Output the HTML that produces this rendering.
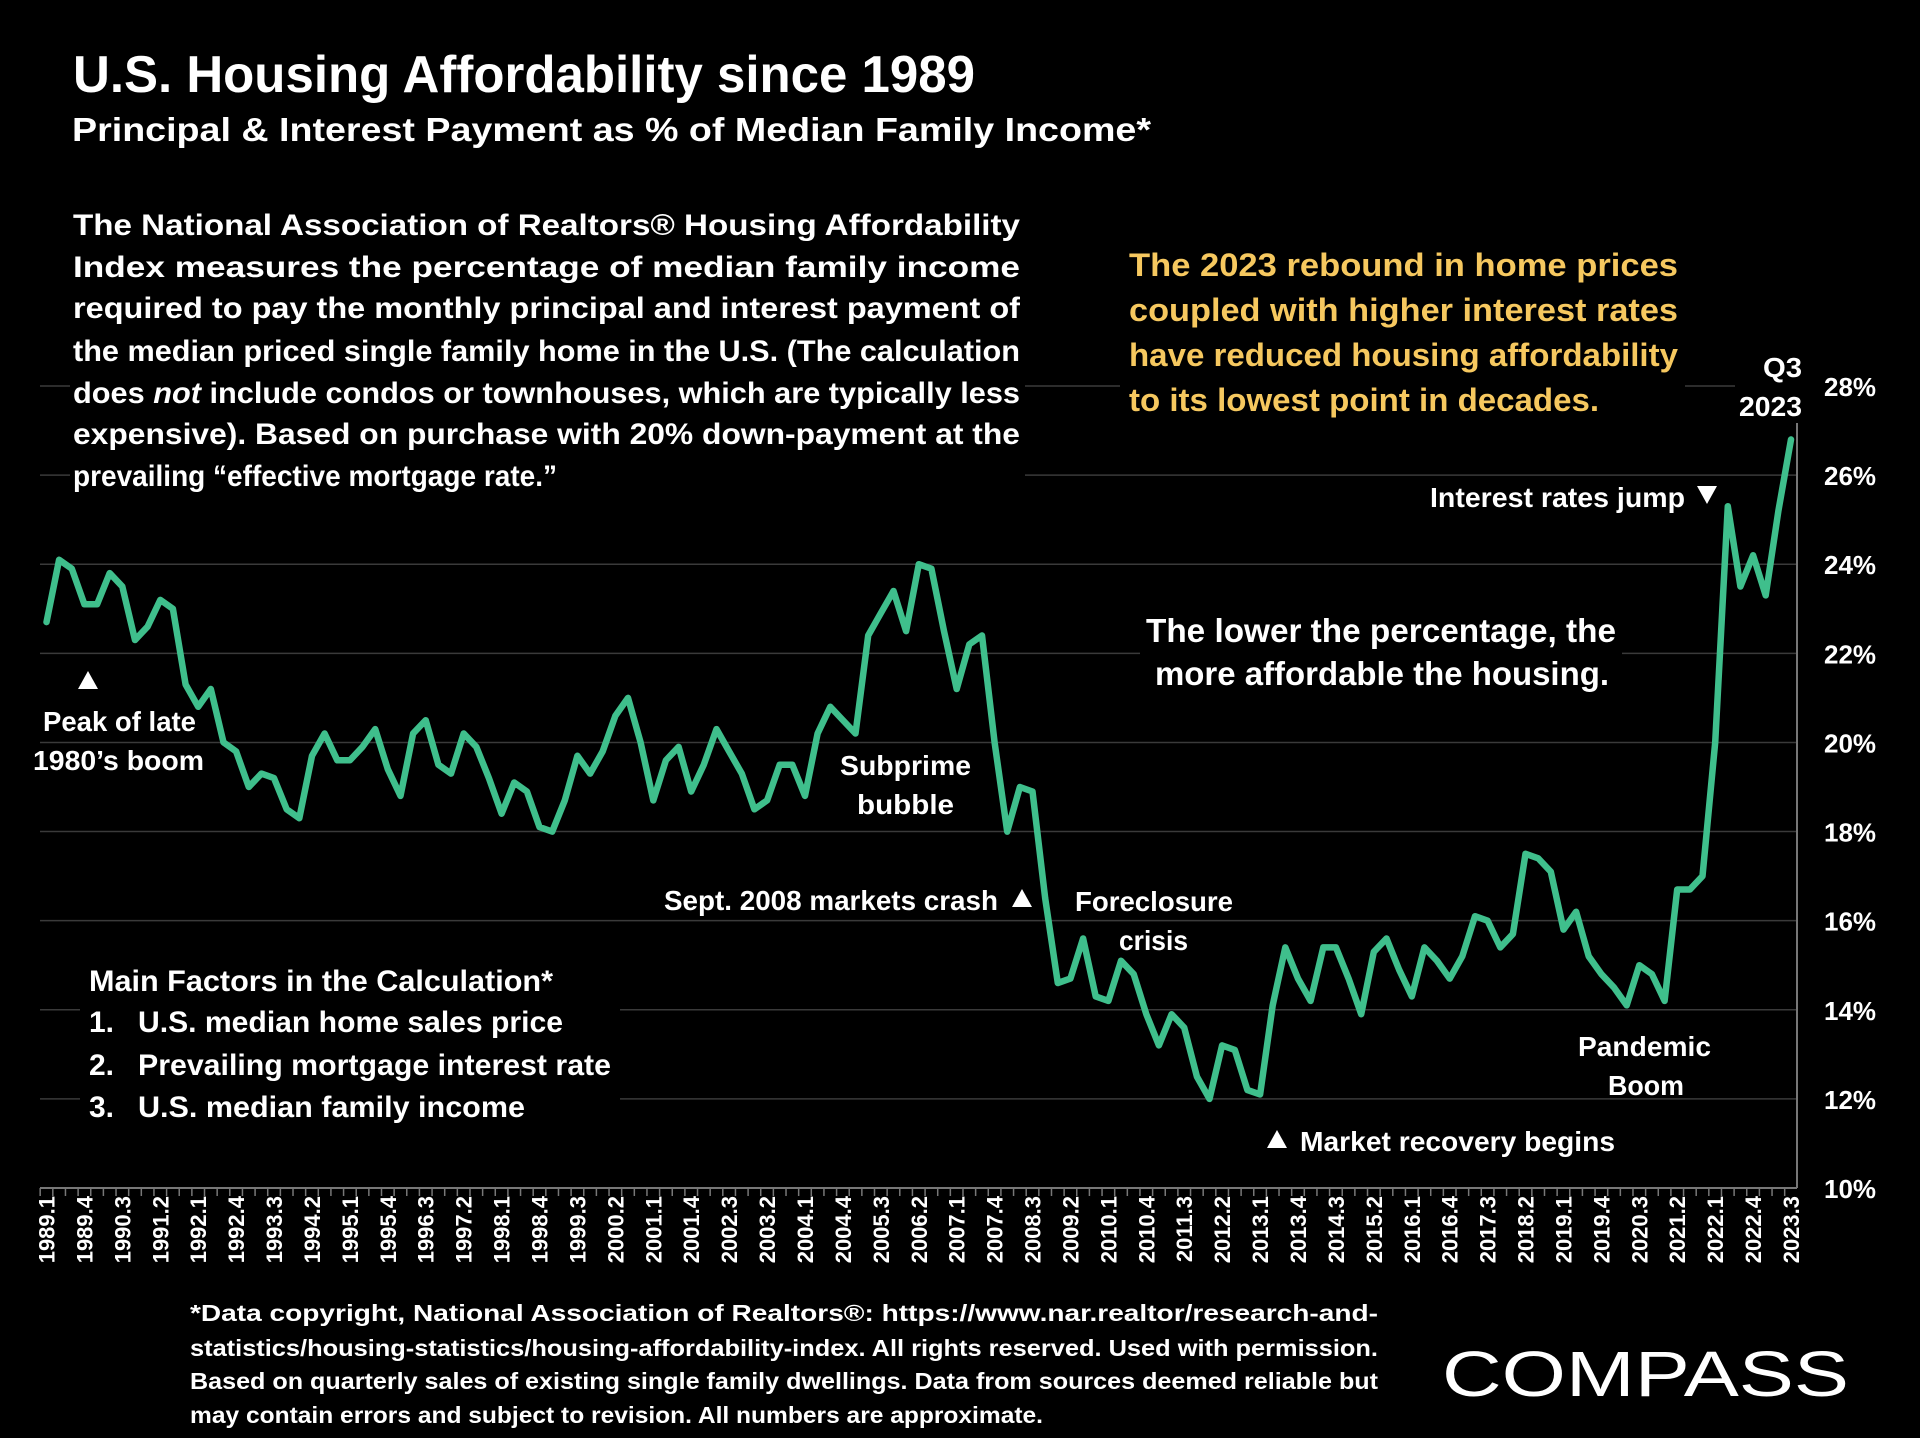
<!DOCTYPE html>
<html><head><meta charset="utf-8"><style>
html,body{margin:0;padding:0;background:#000;}
svg{display:block;font-family:"Liberation Sans",sans-serif;font-weight:bold;}
</style></head><body>
<svg id="chart" width="1920" height="1438" viewBox="0 0 1920 1438">
<rect width="1920" height="1438" fill="#000"/>
<g id="grid"></g>
<g id="axes"></g>
<g id="xlabels"></g>
<g id="ylabels"></g>
<g id="textbg">
<rect x="70" y="200" width="955" height="300" fill="#000"/>
<rect x="1120" y="245" width="565" height="175" fill="#000"/>
<rect x="1735" y="345" width="72" height="78" fill="#000"/>
<rect x="1140" y="605" width="482" height="90" fill="#000"/>
<rect x="80" y="955" width="540" height="175" fill="#000"/>
</g>
<path id="series" fill="none" stroke="#3fbf8c" stroke-width="6.5" stroke-linejoin="round" stroke-linecap="round"/>

<text x="73" y="92" font-size="52" fill="#fff" textLength="902" lengthAdjust="spacingAndGlyphs">U.S. Housing Affordability since 1989</text>
<text x="72" y="141" font-size="33" fill="#fff" textLength="1079" lengthAdjust="spacingAndGlyphs">Principal &amp; Interest Payment as % of Median Family Income*</text>

<g fill="#fff" font-size="30">
<text x="73" y="235" textLength="947" lengthAdjust="spacingAndGlyphs">The National Association of Realtors® Housing Affordability</text>
<text x="73" y="277" textLength="947" lengthAdjust="spacingAndGlyphs">Index measures the percentage of median family income</text>
<text x="73" y="318" textLength="947" lengthAdjust="spacingAndGlyphs">required to pay the monthly principal and interest payment of</text>
<text x="73" y="361" textLength="947" lengthAdjust="spacingAndGlyphs">the median priced single family home in the U.S. (The calculation</text>
<text x="73" y="403" textLength="947" lengthAdjust="spacingAndGlyphs">does <tspan font-style="italic">not</tspan> include condos or townhouses, which are typically less</text>
<text x="73" y="444" textLength="947" lengthAdjust="spacingAndGlyphs">expensive). Based on purchase with 20% down-payment at the</text>
<text x="73" y="486" textLength="484" lengthAdjust="spacingAndGlyphs">prevailing “effective mortgage rate.”</text>
</g>

<g fill="#f6c85f" font-size="32">
<text x="1129" y="276" textLength="549" lengthAdjust="spacingAndGlyphs">The 2023 rebound in home prices</text>
<text x="1129" y="321" textLength="549" lengthAdjust="spacingAndGlyphs">coupled with higher interest rates</text>
<text x="1129" y="366" textLength="549" lengthAdjust="spacingAndGlyphs">have reduced housing affordability</text>
<text x="1129" y="411" textLength="470" lengthAdjust="spacingAndGlyphs">to its lowest point in decades.</text>
</g>

<g fill="#fff" font-size="28">
<text x="1763" y="377" textLength="39" lengthAdjust="spacingAndGlyphs">Q3</text>
<text x="1739" y="416" textLength="63" lengthAdjust="spacingAndGlyphs">2023</text>
<text x="1430" y="507" textLength="255" lengthAdjust="spacingAndGlyphs">Interest rates jump</text>
<polygon points="1697,486 1717,486 1707,504"/>
<text x="1146" y="642" font-size="33" textLength="470" lengthAdjust="spacingAndGlyphs">The lower the percentage, the</text>
<text x="1155" y="685" font-size="33" textLength="454" lengthAdjust="spacingAndGlyphs">more affordable the housing.</text>
<polygon points="88,671 78,689 98,689"/>
<text x="43" y="731" textLength="153" lengthAdjust="spacingAndGlyphs">Peak of late</text>
<text x="33" y="770" textLength="171" lengthAdjust="spacingAndGlyphs">1980’s boom</text>
<text x="840" y="775" textLength="131" lengthAdjust="spacingAndGlyphs">Subprime</text>
<text x="857" y="814" textLength="97" lengthAdjust="spacingAndGlyphs">bubble</text>
<text x="664" y="910" textLength="334" lengthAdjust="spacingAndGlyphs">Sept. 2008 markets crash</text>
<polygon points="1022,889 1012,907 1032,907"/>
<text x="1075" y="911" textLength="158" lengthAdjust="spacingAndGlyphs">Foreclosure</text>
<text x="1119" y="950" textLength="69" lengthAdjust="spacingAndGlyphs">crisis</text>
<text x="1578" y="1056" textLength="133" lengthAdjust="spacingAndGlyphs">Pandemic</text>
<text x="1608" y="1095" textLength="76" lengthAdjust="spacingAndGlyphs">Boom</text>
<polygon points="1277,1130 1267,1148 1287,1148"/>
<text x="1300" y="1151" textLength="315" lengthAdjust="spacingAndGlyphs">Market recovery begins</text>
</g>

<g fill="#fff" font-size="30">
<text x="89" y="991" textLength="464" lengthAdjust="spacingAndGlyphs">Main Factors in the Calculation*</text>
<text x="89" y="1032">1.</text><text x="138" y="1032" textLength="425" lengthAdjust="spacingAndGlyphs">U.S. median home sales price</text>
<text x="89" y="1075">2.</text><text x="138" y="1075" textLength="473" lengthAdjust="spacingAndGlyphs">Prevailing mortgage interest rate</text>
<text x="89" y="1117">3.</text><text x="138" y="1117" textLength="387" lengthAdjust="spacingAndGlyphs">U.S. median family income</text>
</g>

<g fill="#fff" font-size="23">
<text x="190" y="1321" textLength="1188" lengthAdjust="spacingAndGlyphs">*Data copyright, National Association of Realtors®: https://www.nar.realtor/research-and-</text>
<text x="190" y="1356" textLength="1188" lengthAdjust="spacingAndGlyphs">statistics/housing-statistics/housing-affordability-index. All rights reserved. Used with permission.</text>
<text x="190" y="1389" textLength="1188" lengthAdjust="spacingAndGlyphs">Based on quarterly sales of existing single family dwellings. Data from sources deemed reliable but</text>
<text x="190" y="1423" textLength="853" lengthAdjust="spacingAndGlyphs">may contain errors and subject to revision. All numbers are approximate.</text>
</g>

<text x="1442" y="1396" font-size="64" font-weight="normal" fill="#fff" textLength="407" lengthAdjust="spacingAndGlyphs">COMPASS</text>

<script>
const years = [1989,1990,1991,1992,1993,1994,1995,1996,1997,1998,1999,2000,2001,2002,2003,2004,2005,2006,2007,2008,2009,2010,2011,2012,2013,2014,2015,2016,2017,2018,2019,2020,2021,2022,2023];
const values = [
22.7,24.1,23.9,23.1, 23.1,23.8,23.5,22.3, 22.6,23.2,23.0,21.3, 20.8,21.2,20.0,19.8,
19.0,19.3,19.2,18.5, 18.3,19.7,20.2,19.6, 19.6,19.9,20.3,19.4, 18.8,20.2,20.5,19.5,
19.3,20.2,19.9,19.2, 18.4,19.1,18.9,18.1, 18.0,18.7,19.7,19.3, 19.8,20.6,21.0,20.0,
18.7,19.6,19.9,18.9, 19.5,20.3,19.8,19.3, 18.5,18.7,19.5,19.5, 18.8,20.2,20.8,20.5,
20.2,22.4,22.9,23.4, 22.5,24.0,23.9,22.5, 21.2,22.2,22.4,20.0, 18.0,19.0,18.9,16.5,
14.6,14.7,15.6,14.3, 14.2,15.1,14.8,13.9, 13.2,13.9,13.6,12.5, 12.0,13.2,13.1,12.2,
12.1,14.1,15.4,14.7, 14.2,15.4,15.4,14.7, 13.9,15.3,15.6,14.9, 14.3,15.4,15.1,14.7,
15.2,16.1,16.0,15.4, 15.7,17.5,17.4,17.1, 15.8,16.2,15.2,14.8, 14.5,14.1,15.0,14.8,
14.2,16.7,16.7,17.0, 20.0,25.3,23.5,24.2, 23.3,25.2,26.8];
const yTicks = [10,12,14,16,18,20,22,24,26,28];

const NS = 'http://www.w3.org/2000/svg';
const X0 = 46.5, X1 = 1791, Y0 = 1188, Y1 = 386, VMIN = 10, VMAX = 28;
function n() { return values.length; }
function xs(i) { return X0 + i * (X1 - X0) / (n() - 1); }
function ys(v) { return Y0 - (v - VMIN) * (Y0 - Y1) / (VMAX - VMIN); }
function mk(tag, attrs, parent) {
  const e = document.createElementNS(NS, tag);
  for (const k in attrs) e.setAttribute(k, attrs[k]);
  parent.appendChild(e);
  return e;
}
const grid = document.getElementById('grid');
const ylab = document.getElementById('ylabels');
yTicks.forEach(t => {
  if (t > VMIN) {
    const l = mk('line', {x1: 40, x2: 1796, y1: ys(t), y2: ys(t), stroke: '#3a3a3a', 'stroke-width': 1.5}, grid);
    
    
  }
  const tx = mk('text', {x: 1824, y: ys(t) + 10, fill: '#fff', 'font-size': 26}, ylab);
  tx.textContent = t + '%';
  
  
});
const axes = document.getElementById('axes');
const xa = mk('line', {x1: 40, x2: 1797, y1: Y0, y2: Y0, stroke: '#777', 'stroke-width': 2}, axes);


const ya = mk('line', {x1: 1797, x2: 1797, y1: 370, y2: Y0, stroke: '#777', 'stroke-width': 2}, axes);


const xl = document.getElementById('xlabels');
for (let i = 0; i < n(); i++) {
  const half = (X1 - X0) / (n() - 1) / 2;
  mk('line', {x1: xs(i) - half, x2: xs(i) - half, y1: Y0, y2: Y0 + 8, stroke: '#777', 'stroke-width': 1.5}, axes);
  if (i % 3 === 0) {
    const yr = years[Math.floor(i / 4)];
    const q = i % 4 + 1;
    const t = mk('text', {x: 0, y: 0, fill: '#fff', 'font-size': 22, 'text-anchor': 'end',
      transform: 'translate(' + (xs(i) + 8) + ',' + (Y0 + 8) + ') rotate(-90)'}, xl);
    t.textContent = yr + '.' + q;
    
    
  }
}
let d = '';
values.forEach((v, i) => { d += (i ? 'L' : 'M') + xs(i).toFixed(1) + ',' + ys(v).toFixed(1); });
document.getElementById('series').setAttribute('d', d);
</script>
</svg>
</body></html>
